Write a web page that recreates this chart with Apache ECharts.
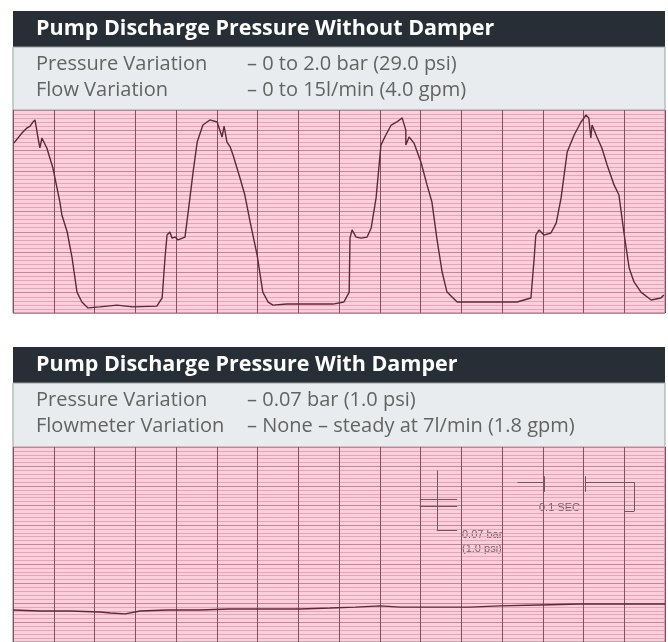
<!DOCTYPE html>
<html>
<head>
<meta charset="utf-8">
<script src="https://cdn.jsdelivr.net/npm/echarts@6/dist/echarts.min.js"></script>
<style>
  html, body { margin: 0; padding: 0; background: #fff; }
  #chart { width: 668px; height: 642px; }
</style>
</head>
<body>
<div id="chart"></div>
<script>
// time in seconds (one grid division = 0.1 s), pressure in chart divisions
const withoutTime = [0.002, 0.022, 0.034, 0.042, 0.049, 0.054, 0.059, 0.061, 0.066, 0.071, 0.083, 0.098, 0.115, 0.120, 0.133, 0.145, 0.157, 0.169, 0.184, 0.213, 0.255, 0.294, 0.353, 0.366, 0.373, 0.378, 0.385, 0.390, 0.398, 0.405, 0.422, 0.429, 0.442, 0.452, 0.466, 0.483, 0.501, 0.513, 0.518, 0.525, 0.533, 0.540, 0.557, 0.569, 0.582, 0.599, 0.613, 0.626, 0.638, 0.672, 0.785, 0.812, 0.825, 0.827, 0.832, 0.842, 0.854, 0.869, 0.879, 0.891, 0.903, 0.915, 0.928, 0.942, 0.955, 0.964, 0.964, 0.972, 0.984, 1.001, 1.016, 1.028, 1.040, 1.053, 1.065, 1.090, 1.156, 1.237, 1.271, 1.279, 1.283, 1.291, 1.303, 1.320, 1.333, 1.345, 1.360, 1.377, 1.394, 1.406, 1.413, 1.418, 1.421, 1.433, 1.445, 1.458, 1.475, 1.487, 1.499, 1.512, 1.524, 1.541, 1.566, 1.590, 1.597];
const withoutPressure = [8.37, 8.87, 9.11, 9.21, 9.41, 9.51, 8.92, 8.67, 8.13, 8.62, 8.13, 7.14, 5.47, 4.83, 3.99, 2.71, 1.03, 0.54, 0.25, 0.30, 0.39, 0.30, 0.34, 0.74, 2.71, 3.84, 3.99, 3.69, 3.74, 3.60, 3.74, 4.83, 6.95, 8.42, 9.26, 9.51, 9.41, 8.67, 9.21, 8.42, 8.18, 7.78, 6.65, 5.81, 4.48, 2.86, 1.03, 0.54, 0.39, 0.44, 0.44, 0.54, 1.03, 3.69, 4.09, 3.74, 3.69, 3.74, 4.19, 5.67, 8.28, 8.77, 9.26, 9.41, 9.61, 9.01, 8.28, 8.67, 8.37, 7.44, 6.31, 5.47, 3.69, 2.02, 1.03, 0.54, 0.54, 0.54, 0.74, 2.71, 3.84, 4.09, 3.84, 3.94, 4.43, 5.67, 7.93, 8.77, 9.41, 9.75, 9.61, 8.62, 9.26, 8.67, 8.13, 7.29, 6.31, 5.81, 3.99, 2.22, 1.53, 1.03, 0.64, 0.74, 0.89];

const withTime = [0, 0.066, 0.140, 0.213, 0.240, 0.275, 0.312, 0.380, 0.459, 0.530, 0.606, 0.704, 0.778, 0.840, 0.901, 0.950, 1.023, 1.121, 1.195, 1.293, 1.391, 1.490, 1.6];
const withPressure = [1.64, 1.59, 1.59, 1.54, 1.49, 1.44, 1.59, 1.64, 1.64, 1.69, 1.69, 1.69, 1.74, 1.79, 1.85, 1.79, 1.79, 1.79, 1.85, 1.90, 1.95, 1.95, 1.95];

// scale marker drawn on the lower chart, in the same units
const barMarkTime = 1.04;
const barMarkTop = 8.8;
const barMarkBottom = 5.75;
const barMarkBars = [7.3, 6.95];
const barMarkLeft = 0.998;
const barMarkRight = 1.09;
const secMarkStart = 1.238;
const secMarkEnd = 1.404;
const secMarkArrowIn = 1.303;
const secMarkBracket = 1.524;
const secMarkY = 8.2;
const secMarkTickTop = 8.5;
const secMarkTickBottom = 7.7;
const secMarkDrop = 6.7;

const headings = ['Pump Discharge Pressure Without Damper', 'Pump Discharge Pressure With Damper'];
const labelRows = [
  [['Pressure Variation', '– 0 to 2.0 bar (29.0 psi)'], ['Flow Variation', '– 0 to 15l/min (4.0 gpm)']],
  [['Pressure Variation', '– 0.07 bar (1.0 psi)'], ['Flowmeter Variation', '– None – steady at 7l/min (1.8 gpm)']]
];

const chart = echarts.init(document.getElementById('chart'));

const pair = (xs, ys) => xs.map((x, i) => [x, ys[i]]);
const seg = (a, b) => [{ coord: a }, { coord: b }];

// panel boxes: header bar + grey info box
const panelTops = [11, 347];
const graphic = [];
panelTops.forEach((top, p) => {
  graphic.push({ type: 'rect', shape: { x: 13, y: top, width: 652, height: 36 }, style: { fill: '#272e36' } });
  graphic.push({ type: 'rect', shape: { x: 13, y: top + 36, width: 652, height: p === 0 ? 63 : 64 }, style: { fill: '#e8ecee', stroke: '#9aa0a3', lineWidth: 1 } });
  graphic.push({ type: 'text', x: 36, y: top + 18, style: { text: headings[p], fill: '#fff', font: 'bold 21.5px "Open Sans"', verticalAlign: 'middle' } });
  labelRows[p].forEach((row, r) => {
    const y = top + 53 + r * 26;
    graphic.push({ type: 'text', x: 36, y: y, style: { text: row[0], fill: '#636363', font: '20px "Open Sans"', verticalAlign: 'middle' } });
    graphic.push({ type: 'text', x: 247, y: y, style: { text: row[1], fill: '#636363', font: '20px "Open Sans"', verticalAlign: 'middle' } });
  });
});
// marker captions
graphic.push({ type: 'text', x: 539, y: 508, style: { text: '0.1 SEC', fill: '#6d6468', font: '11px "Liberation Sans"', verticalAlign: 'middle' } });
graphic.push({ type: 'text', x: 462, y: 535, style: { text: '0.07 bar', fill: '#6d6468', font: '11px "Liberation Sans"', verticalAlign: 'middle' } });
graphic.push({ type: 'text', x: 462, y: 549, style: { text: '(1.0 psi)', fill: '#6d6468', font: '11px "Liberation Sans"', verticalAlign: 'middle' } });

const xAxisBase = (gridIndex) => ({
  type: 'value', gridIndex, min: 0, max: 1.6, interval: 0.1,
  axisLabel: { show: false }, axisTick: { show: false },
  axisLine: { show: false },
  splitLine: { show: true, lineStyle: { color: '#85505f', width: 1 } }
});
const yAxisBase = (gridIndex) => ({
  type: 'value', gridIndex, min: 0, max: 10, interval: 1,
  axisLabel: { show: false }, axisTick: { show: false },
  axisLine: { show: false },
  minorTick: { show: false, splitNumber: 5 },
  splitLine: { show: true, lineStyle: { color: '#c98296', width: 1 } },
  minorSplitLine: { show: true, lineStyle: { color: '#e8a3b7', width: 1 } }
});

const option = {
  animation: false,
  backgroundColor: '#fff',
  graphic: graphic,
  grid: [
    { left: 13, top: 110, width: 652, height: 203, show: true, backgroundColor: '#f9d0dc', borderColor: '#8a7a80', borderWidth: 1 },
    { left: 13, top: 447, width: 652, height: 195, show: true, backgroundColor: '#f9d0dc', borderColor: '#8a7a80', borderWidth: 1 }
  ],
  xAxis: [xAxisBase(0), xAxisBase(1)],
  yAxis: [yAxisBase(0), yAxisBase(1)],
  series: [
    {
      name: 'Without Damper',
      type: 'line', xAxisIndex: 0, yAxisIndex: 0,
      data: pair(withoutTime, withoutPressure),
      showSymbol: false,
      lineStyle: { color: '#5c2a3a', width: 1.4 }
    },
    {
      name: 'With Damper',
      type: 'line', xAxisIndex: 1, yAxisIndex: 1,
      data: pair(withTime, withPressure),
      showSymbol: false,
      lineStyle: { color: '#5c2a3a', width: 1.4 },
      markLine: {
        silent: true, symbol: 'none', label: { show: false },
        lineStyle: { color: '#6d5a60', width: 1, type: 'solid' },
        data: [
          seg([barMarkTime, barMarkTop], [barMarkTime, barMarkBottom]),
          seg([barMarkLeft, barMarkBars[0]], [barMarkRight, barMarkBars[0]]),
          seg([barMarkLeft, barMarkBars[1]], [barMarkRight, barMarkBars[1]]),
          seg([barMarkTime, barMarkBottom], [barMarkRight, barMarkBottom]),
          seg([secMarkStart, secMarkY], [secMarkArrowIn, secMarkY]),
          seg([secMarkArrowIn, secMarkTickTop], [secMarkArrowIn, secMarkTickBottom]),
          seg([secMarkEnd, secMarkTickTop], [secMarkEnd, secMarkTickBottom]),
          seg([secMarkEnd, secMarkY], [secMarkBracket, secMarkY]),
          seg([secMarkBracket, secMarkY], [secMarkBracket, secMarkDrop]),
          seg([secMarkBracket, secMarkDrop], [1.50, secMarkDrop])
        ]
      }
    }
  ]
};

chart.setOption(option);
</script>
</body>
</html>
